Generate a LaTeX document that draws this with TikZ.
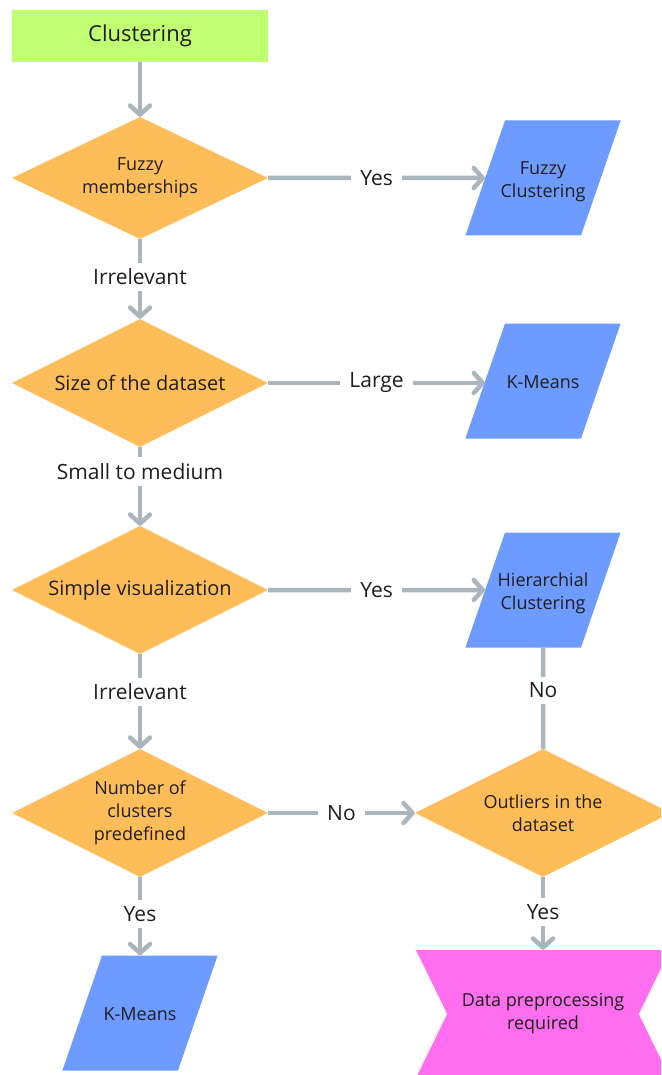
\documentclass[tikz,border=0pt]{standalone}
\usepackage{fontspec}
\setmainfont{Open Sans}
\usetikzlibrary{shapes.geometric, shapes.symbols, arrows.meta}
\definecolor{startgreen}{HTML}{C1FF72}
\definecolor{askorange}{HTML}{FFBD59}
\definecolor{pickblue}{HTML}{6E9BFF}
\definecolor{prepink}{HTML}{FF6EEE}
\definecolor{flowgrey}{HTML}{AAB5BC}
\definecolor{inkdark}{HTML}{1E1E1E}
% text of a method box: fixed height, centred, may spill past the body
\newcommand{\methodtext}[1]{\vbox to 115pt{\vskip 6pt\vss
  \hbox to 76pt{\hss\begin{tabular}{@{}c@{}}#1\end{tabular}\hss}\vss}}
\tikzset{
  every node/.style       = {text=inkdark},              % dark text everywhere
  startbox/.style         = {rectangle, fill=startgreen,
                             minimum width=256pt, minimum height=52pt,
                             font=\fontsize{22}{26}\selectfont},
  decision/.style         = {diamond, fill=askorange, inner sep=0pt, aspect=2,
                             minimum width=256pt, minimum height=128pt,
                             align=center, font=\fontsize{18}{23}\selectfont},
  method/.style           = {trapezium, trapezium left angle=71,
                             trapezium right angle=109, trapezium stretches body,
                             fill=pickblue, inner sep=0pt,
                             minimum width=155pt, minimum height=115pt,
                             font=\fontsize{18}{23}\selectfont},
  notice/.style           = {signal, signal from=west and east, signal to=nowhere,
                             signal pointer angle=128, fill=prepink, inner sep=0pt,
                             minimum width=254pt, minimum height=128pt,
                             align=center, font=\fontsize{18}{23}\selectfont},
  link/.style             = {line width=4.5pt, draw=flowgrey},
  arrow/.style            = {link, -{Straight Barb[length=9pt, width=20pt, round]}},
  answer/.style           = {fill=white, inner xsep=9pt, inner ysep=6pt,
                             font=\fontsize{21}{25}\selectfont}
}
\begin{document}
\begin{tikzpicture}[x=1pt, y=-1pt]
  \useasboundingbox (0,0) rectangle (661,1075);
  \clip (0,0) rectangle (661,1075);
  % left column: the questions
  \node[startbox] (clu) at (140,36) {Clustering};
  \node[decision, aspect=2.1, minimum height=122pt] (fuz) at (140,178) {Fuzzy\\memberships};
  \node[decision, font=\fontsize{20}{24}\selectfont] (siz) at (140,383) {Size of the dataset};
  \node[decision, font=\fontsize{20}{24}\selectfont] (vis) at (140,590) {Simple visualization};
  \node[decision] (num) at (140,813) {Number of\\clusters\\predefined};
  \node[method] (km2) at (140,1013) {\methodtext{K-Means}};
  % right column: the answers
  \node[method] (fcl) at (543,178) {\methodtext{Fuzzy\\Clustering}};
  \node[method] (km1) at (543,381) {\methodtext{K-Means}};
  \node[method] (hcl) at (543,590) {\methodtext{Hierarchial\\Clustering}};
  \node[decision] (out) at (543,813) {Outliers in the\\dataset};
  \node[notice] (pre) at (543,1014) {Data preprocessing\\required};
  % connectors
  \draw[arrow] (clu) -- (fuz);
  \draw[arrow] (fuz) -- node[answer] {Yes} (fcl);
  \draw[arrow] (fuz) -- node[answer, pos=.47] {Irrelevant} (siz);
  \draw[arrow] (siz.east) -- node[answer] {Large} (siz.east -| km1.west);
  \draw[arrow] (siz) -- node[answer, pos=.31] {Small to medium} (vis);
  \draw[arrow] (vis) -- node[answer] {Yes} (hcl);
  \draw[arrow] (vis) -- node[answer, pos=.4] {Irrelevant} (num);
  \draw[arrow] (num) -- node[answer] {No} (out);
  \draw[arrow] (num) -- node[answer, pos=.47] {Yes} (km2);
  \draw[link] (hcl) -- node[answer, pos=.42] {No} (out);
  \draw[arrow] (out) -- node[answer, pos=.48] {Yes} (pre);
\end{tikzpicture}
\end{document}
